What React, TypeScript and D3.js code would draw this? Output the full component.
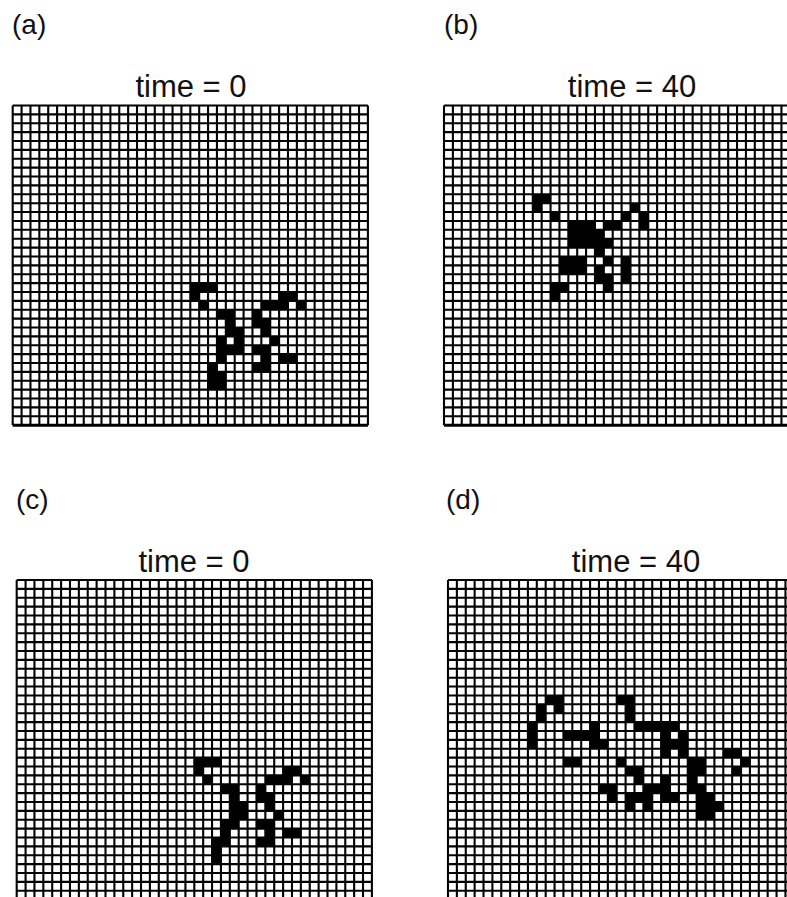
import React from 'react';
import * as d3 from 'd3';

const panelLabels = ['(a)', '(b)', '(c)', '(d)'];
const panelTitles = ['time = 0', 'time = 40', 'time = 0', 'time = 40'];
const gridCols = 40;
const gridRows = 36;

// occupied (black) cells, one entry per grid row: [row, columns]
const cellsA: [number, number[]][] = [
  [20, [20, 21, 22]],
  [21, [20, 30, 31]],
  [22, [21, 28, 29, 30, 32]],
  [23, [23, 24, 27]],
  [24, [24, 27, 28]],
  [25, [24, 25, 28]],
  [26, [23, 25, 29]],
  [27, [23, 24, 25, 27, 28]],
  [28, [23, 28, 30, 31]],
  [29, [22, 27, 28]],
  [30, [22, 23]],
  [31, [22, 23]],
];

const cellsB: [number, number[]][] = [
  [10, [10, 11]],
  [11, [10, 21]],
  [12, [12, 20, 22]],
  [13, [14, 15, 16, 18, 19, 22]],
  [14, [14, 15, 16, 17]],
  [15, [14, 15, 16, 17, 18]],
  [16, [17]],
  [17, [13, 14, 15, 18, 20]],
  [18, [13, 14, 15, 17, 20]],
  [19, [17, 18, 20]],
  [20, [12, 13, 18]],
  [21, [12]],
];

const cellsC: [number, number[]][] = [
  [20, [20, 21, 22]],
  [21, [20, 30, 31]],
  [22, [21, 28, 29, 30, 32]],
  [23, [23, 24, 27]],
  [24, [24, 27, 28]],
  [25, [24, 25, 28]],
  [26, [24, 25, 29]],
  [27, [23, 24, 27, 28]],
  [28, [23, 28, 30, 31]],
  [29, [22, 23, 27, 28]],
  [30, [22]],
  [31, [22]],
];

const cellsD: [number, number[]][] = [
  [13, [11, 12, 19, 20]],
  [14, [10, 12, 20]],
  [15, [10, 20]],
  [16, [9, 16, 21, 22, 23, 24, 25]],
  [17, [9, 13, 14, 15, 16, 24, 26]],
  [18, [9, 16, 17, 24, 25, 26]],
  [19, [24, 26, 31, 32]],
  [20, [13, 14, 19, 27, 28, 33]],
  [21, [20, 21, 27, 28, 32]],
  [22, [21, 24, 27]],
  [23, [17, 18, 22, 23, 24, 27, 28]],
  [24, [18, 20, 21, 22, 24, 25, 28, 29]],
  [25, [20, 22, 28, 29, 30]],
  [26, [28, 29]],
];

const panelCells = [cellsA, cellsB, cellsC, cellsD];

// where each panel sits on the page
const layout = [
  { gx: 12.7, gy: 105.5, lx: 12, ly: 34, tx: 191, ty: 96.5, bottom: true },
  { gx: 444, gy: 105.5, lx: 444, ly: 34, tx: 632, ty: 96.5, bottom: true },
  { gx: 16.7, gy: 580, lx: 16, ly: 509, tx: 194, ty: 571.5, bottom: false },
  { gx: 448, gy: 580, lx: 446, ly: 509, tx: 636, ty: 571.5, bottom: false },
];

const cell = 8.88;
const font = '"Liberation Sans", Arial, Helvetica, sans-serif';

function Panel({ idx }: { idx: number }) {
  const p = layout[idx];
  const x = d3.scaleLinear().domain([0, gridCols]).range([p.gx, p.gx + gridCols * cell]);
  const y = d3.scaleLinear().domain([0, gridRows]).range([p.gy, p.gy + gridRows * cell]);
  const cells = panelCells[idx].flatMap(([r, cols]) => cols.map((c) => ({ r, c })));

  return (
    <g>
      <text x={p.lx} y={p.ly} fontSize={28} fontFamily={font} fill="#111">
        {panelLabels[idx]}
      </text>
      <text x={p.tx} y={p.ty} fontSize={31} fontFamily={font} textAnchor="middle" fill="#111">
        {panelTitles[idx]}
      </text>
      <rect x={x(0)} y={y(0)} width={x(gridCols) - x(0)} height={y(gridRows) - y(0)} fill="#fff" />
      {cells.map((d) => (
        <rect
          key={`${d.r}-${d.c}`}
          x={x(d.c)}
          y={y(d.r)}
          width={x(d.c + 1) - x(d.c)}
          height={y(d.r + 1) - y(d.r)}
          fill="#000"
        />
      ))}
      {d3.range(gridCols + 1).map((k) => (
        <line key={`v${k}`} x1={x(k)} x2={x(k)} y1={y(0)} y2={y(gridRows)} stroke="#000" strokeWidth={2.1} />
      ))}
      {d3.range(gridRows + 1).map((k) => (
        <line
          key={`h${k}`}
          x1={x(0)}
          x2={x(gridCols)}
          y1={y(k)}
          y2={y(k)}
          stroke="#000"
          strokeWidth={k === gridRows && p.bottom ? 3 : 2.1}
        />
      ))}
    </g>
  );
}

export default function App() {
  return (
    <div style={{ position: 'absolute', left: 0, top: 0 }}>
      <svg width={787} height={897} style={{ display: 'block', background: '#fff' }}>
        {[0, 1, 2, 3].map((i) => (
          <Panel key={i} idx={i} />
        ))}
      </svg>
    </div>
  );
}
